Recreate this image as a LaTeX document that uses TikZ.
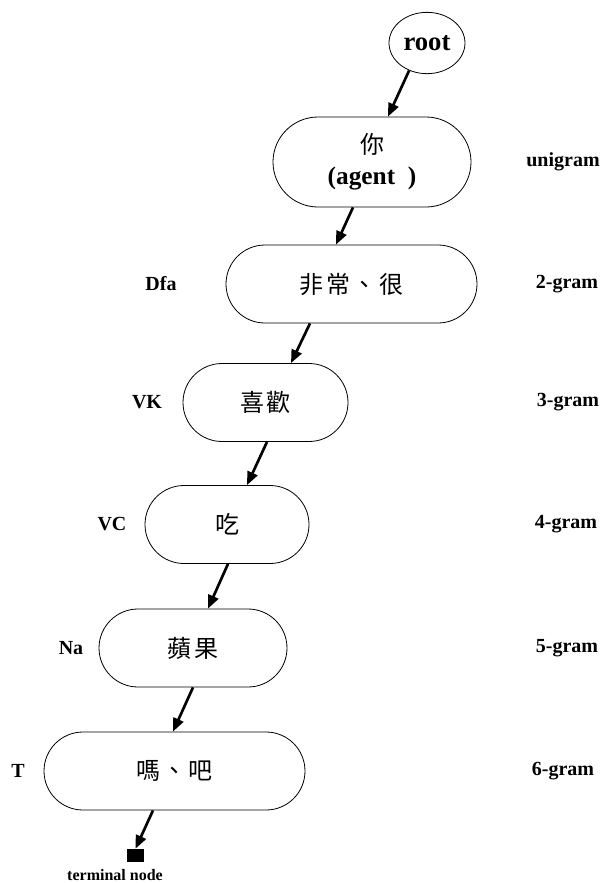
\documentclass[tikz,border=0pt]{standalone}
\usepackage{fontspec}
\setmainfont{Liberation Serif}
\newfontfamily\cjk[LetterSpace=10]{Noto Sans CJK TC}
\usetikzlibrary{shapes.geometric, shapes.misc, arrows.meta, calc}

\begin{document}
\begin{tikzpicture}[
    x=0.75pt, y=-0.75pt,
    gram/.style={rounded rectangle, draw, line width=0.6pt, minimum height=58.5pt, inner sep=0pt, font=\cjk\fontsize{18}{22}\selectfont},
    tag/.style={font=\bfseries\fontsize{15}{18}\selectfont},
    arrow/.style={-{Triangle[length=10pt,width=8pt]}, line width=2pt}
]
    \useasboundingbox (0,0) rectangle (607,883);

    % Root
    \node[ellipse, draw, line width=0.6pt, inner sep=0pt, minimum width=57pt, minimum height=46pt, font=\bfseries\fontsize{20}{24}\selectfont] (root) at (427,43) {root};

    % Word nodes
    \node[gram, minimum width=148.5pt, minimum height=67.5pt, align=center] (n1) at (372,162) {你\\[1pt]{\rmfamily\bfseries\fontsize{19}{22}\selectfont(agent\ \ )}};
    \node[gram, minimum width=188.25pt] (n2) at (351.5,284) {非常、很};
    \node[gram, minimum width=123.75pt] (n3) at (265.5,402.5) {喜歡};
    \node[gram, minimum width=123pt] (n4) at (227,524.5) {吃};
    \node[gram, minimum width=141pt] (n5) at (193,648) {蘋果};
    \node[gram, minimum width=195.75pt] (n6) at (174.5,771) {嗎、吧};

    % Terminal
    \node[rectangle, fill=black, inner sep=0pt, minimum width=12.75pt, minimum height=9.75pt] (term) at (135.5,855.5) {};
    \node[font=\bfseries\fontsize{12}{14}\selectfont, inner sep=1pt] (termlabel) at (115,875) {terminal node};

    % POS tags
    \node[tag] (tDfa) at (161,284) {Dfa};
    \node[tag] (tVK) at (147,402.5) {VK};
    \node[tag] (tVC) at (112,524.5) {VC};
    \node[tag] (tNa) at (71,648) {Na};
    \node[tag] (tT) at (18,771) {T};

    % n-gram levels
    \node[tag] (g1) at (563,162) {unigram};
    \node[tag] (g2) at (567,284) {2-gram};
    \node[tag] (g3) at (568,402.5) {3-gram};
    \node[tag] (g4) at (566,524.5) {4-gram};
    \node[tag] (g5) at (567,648) {5-gram};
    \node[tag] (g6) at (563,771) {6-gram};

    % Arrows
    \draw[arrow] (root.237) -- ($(n1.north)+(16,0)$);
    \draw[arrow] ($(n1.south)+(-19,0)$) -- ($(n2.north)+(-15.5,0)$);
    \draw[arrow] ($(n2.south)+(-41.5,0)$) -- ($(n3.north)+(25.5,0)$);
    \draw[arrow] ($(n3.south)+(1.5,0)$) -- ($(n4.north)+(20,0)$);
    \draw[arrow] ($(n4.south)+(1,0)$) -- ($(n5.north)+(15,0)$);
    \draw[arrow] (n5.south) -- ($(n6.north)+(-1.5,0)$);
    \draw[arrow] ($(n6.south)+(-21.5,0)$) -- (term.north);
\end{tikzpicture}
\end{document}
